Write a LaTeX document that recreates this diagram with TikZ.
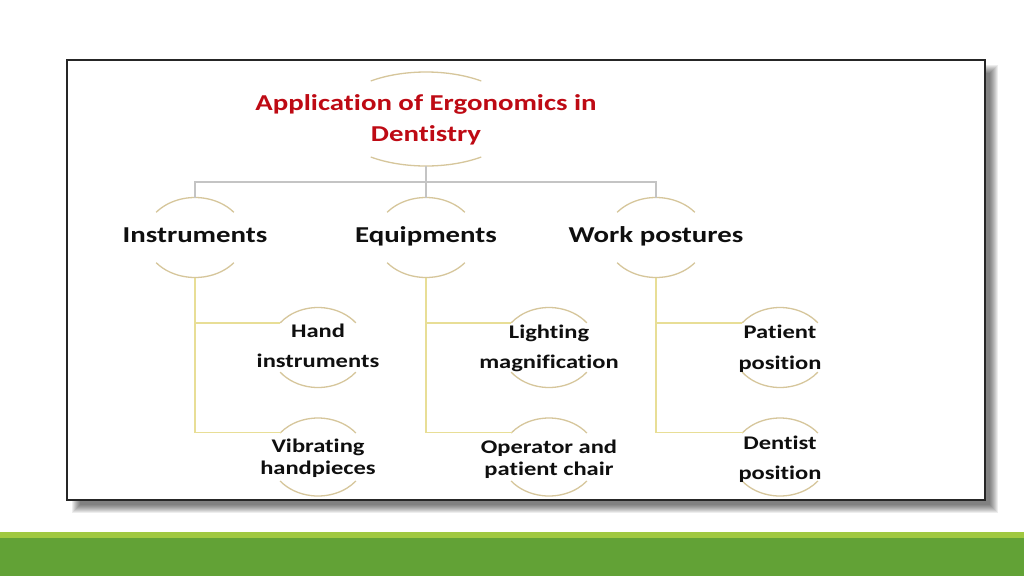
\documentclass[tikz,border=0pt]{standalone}
\usepackage{fontspec}
\newfontfamily\calfont[FakeStretch=1.27,Ligatures=NoCommon]{Carlito}
\usetikzlibrary{shapes.geometric}
\definecolor{titlered}{RGB}{190,10,20}
\definecolor{arcc}{RGB}{214,198,155}
\definecolor{gline}{RGB}{196,196,196}
\definecolor{yline}{RGB}{232,222,150}
\definecolor{gdark}{RGB}{98,162,54}
\definecolor{glight}{RGB}{160,200,64}
\definecolor{txt}{RGB}{15,15,15}
\newcommand{\bubarcs}[4]{%
 \draw[arcline] ([shift={(-180+#4:#2 and #3)}]#1.center) arc[start angle=-180+#4, end angle=-#4, x radius=#2, y radius=#3];
 \draw[arcline] ([shift={(#4:#2 and #3)}]#1.center) arc[start angle=#4, end angle=180-#4, x radius=#2, y radius=#3];}
\tikzset{
 arcline/.style={draw=arcc, line width=1.3pt},
 bubshape/.style={ellipse, draw=none, inner sep=0pt, outer sep=0pt},
 gconn/.style={draw=gline, line width=1.2pt},
 yconn/.style={draw=yline, line width=1.2pt},
 titletxt/.style={align=center, text=titlered, inner sep=0pt, font=\calfont\bfseries\fontsize{22.7}{31}\selectfont},
 cattxt/.style={text=txt, inner sep=0pt, font=\calfont\bfseries\fontsize{22.7}{27}\selectfont},
 childA/.style={align=center, text=txt, inner sep=0pt, font=\calfont\bfseries\fontsize{19.3}{30.5}\selectfont},
 childB/.style={align=center, text=txt, inner sep=0pt, font=\calfont\bfseries\fontsize{19.3}{22.5}\selectfont}
}
\begin{document}
\begin{tikzpicture}[x=1pt,y=-1pt]
\useasboundingbox (0,0) rectangle (1024,576);
\fill[white] (0,0) rectangle (1024,576);
% shadow
\foreach \i in {0,...,8}
  \fill[black, opacity=0.07] (72+\i,65+\i) rectangle (998-\i,513-\i);
% frame
\filldraw[fill=white, draw=black!85, line width=1.2pt] (67,60) rectangle (985,500);
% green bars
\fill[glight] (0,532) rectangle (1024,537.5);
\fill[gdark] (0,537.5) rectangle (1024,576);
% bubbles
\node[bubshape, minimum width=188pt, minimum height=94pt] (T) at (426,119) {};
\node[bubshape, minimum width=100pt, minimum height=80pt] (C1) at (195,237.5) {};
\node[bubshape, minimum width=100pt, minimum height=80pt] (C2) at (426,237.5) {};
\node[bubshape, minimum width=100pt, minimum height=80pt] (C3) at (656,237.5) {};
\node[bubshape, minimum width=96pt, minimum height=80pt] (H1) at (318,347.5) {};
\node[bubshape, minimum width=96pt, minimum height=78pt] (H2) at (318,457) {};
\node[bubshape, minimum width=96pt, minimum height=80pt] (E1) at (549,347.5) {};
\node[bubshape, minimum width=96pt, minimum height=78pt] (E2) at (549,457) {};
\node[bubshape, minimum width=96pt, minimum height=80pt] (W1) at (780,347.5) {};
\node[bubshape, minimum width=96pt, minimum height=78pt] (W2) at (780,457) {};
\bubarcs{T}{94}{47}{54}
\bubarcs{C1}{50}{40}{39}
\bubarcs{C2}{50}{40}{39}
\bubarcs{C3}{50}{40}{39}
\bubarcs{H1}{48}{40}{38}
\bubarcs{H2}{48}{39}{38}
\bubarcs{E1}{48}{40}{38}
\bubarcs{E2}{48}{39}{38}
\bubarcs{W1}{48}{40}{38}
\bubarcs{W2}{48}{39}{38}
% connectors
\coordinate (J) at (426,182);
\draw[gconn] (T.south) -- (J);
\draw[gconn] (J) -| (C1.north);
\draw[gconn] (J) -| (C3.north);
\draw[gconn] (J) -- (C2.north);
\draw[yconn] (C1.south) |- (H1.147);
\draw[yconn] (C1.south) |- (H2.147);
\draw[yconn] (C2.south) |- (E1.147);
\draw[yconn] (C2.south) |- (E2.147);
\draw[yconn] (C3.south) |- (W1.147);
\draw[yconn] (C3.south) |- (W2.147);
% texts
\node[titletxt] (Tt) at (426,120) {Application of Ergonomics in\\Dentistry};
\node[cattxt, anchor=base] (C1t) at (195,242.7) {Instruments};
\node[cattxt, anchor=base] (C2t) at (426,242.7) {Equipments};
\node[cattxt, anchor=base] (C3t) at (656,242.7) {Work postures};
\node[childA] (H1t) at (318,345.6) {Hand\\instruments};
\node[childB] (H2t) at (318,458.2) {Vibrating\\handpieces};
\node[childA] (E1t) at (549,348.3) {Lighting\\magnification};
\node[childB] (E2t) at (549,459.2) {Operator and\\patient chair};
\node[childA] (W1t) at (780,348.6) {Patient\\position};
\node[childA] (W2t) at (780,459) {Dentist\\position};
\end{tikzpicture}
\end{document}
